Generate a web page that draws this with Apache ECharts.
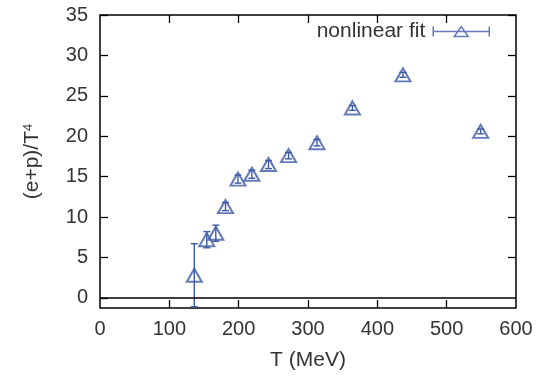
<!DOCTYPE html>
<html><head><meta charset="utf-8">
<script src="https://cdn.jsdelivr.net/npm/echarts@6/dist/echarts.min.js"></script>
<style>html,body{margin:0;padding:0;background:#fff}#c{width:544px;height:376px}</style>
</head><body><div id="c"></div>
<script>
const T   = [136, 154, 167, 181, 199, 219, 243, 272, 313, 364, 437, 549];
const val = [2.8, 7.2, 8.0, 11.3, 14.7, 15.3, 16.5, 17.6, 19.2, 23.5, 27.6, 20.6];
const err = [3.9, 1.0, 1.0, 0.5, 0.5, 0.5, 0.5, 0.4, 0.4, 0.3, 0.3, 0.3];
const xTicks = [0, 100, 200, 300, 400, 500, 600];
const yTicks = [0, 5, 10, 15, 20, 25, 30, 35];
const seriesName = 'nonlinear fit';

const blue = '#3d5aa6';
const txt = '#333';
const font = 'Liberation Sans, Arial, sans-serif';
const pts = T.map((t, i) => [t, val[i], err[i]]);

const chart = echarts.init(document.getElementById('c'));
function ticks(vals) {
  return {show: true, inside: true, length: 8, customValues: vals, lineStyle: {color: '#000', width: 1.3}};
}
const noLine = {show: false, onZero: false};
chart.setOption({
  animation: false,
  backgroundColor: '#fff',
  grid: {left: 100, right: 28, top: 15, bottom: 67, show: true, borderColor: '#000', borderWidth: 1.5},
  legend: {
    data: [{name: seriesName}],
    right: 54, top: 21, padding: 0, align: 'right',
    itemWidth: 56, itemHeight: 12,
    icon: 'path://M0,6 L56,6 M0,1 L0,11 M56,1 L56,11 M21,11 L28,1 L35,11 Z',
    itemStyle: {color: 'rgba(0,0,0,0)', borderColor: blue, borderWidth: 1.5},
    textStyle: {fontFamily: font, fontSize: 21, color: txt, padding: [0, 3, 0, 0]}
  },
  xAxis: [{
    type: 'value', min: 0, max: 600,
    name: 'T (MeV)', nameLocation: 'middle', nameGap: 42,
    nameTextStyle: {fontFamily: font, fontSize: 21, color: txt},
    axisLine: noLine, axisTick: ticks(xTicks.slice(1, -1)),
    axisLabel: {fontFamily: font, fontSize: 20, color: txt, margin: 11, customValues: xTicks},
    splitLine: {show: false}
  }, {
    type: 'value', min: 0, max: 600, position: 'top',
    axisLine: noLine, axisTick: ticks(xTicks.slice(1, -1)),
    axisLabel: {show: false}, splitLine: {show: false}
  }],
  yAxis: [{
    type: 'value', min: -1.25, max: 35,
    name: '(e+p)/T{s|4}', nameLocation: 'middle', nameGap: 57, nameRotate: 90,
    nameTextStyle: {fontFamily: font, fontSize: 21, color: txt,
      rich: {s: {fontFamily: font, fontSize: 13, color: txt, verticalAlign: 'top', padding: [0, 0, 8, 0]}}},
    axisLine: noLine, axisTick: ticks(yTicks),
    axisLabel: {fontFamily: font, fontSize: 20, color: txt, margin: 12, customValues: yTicks},
    splitLine: {show: false}
  }, {
    type: 'value', min: -1.25, max: 35, position: 'right',
    axisLine: noLine, axisTick: ticks(yTicks.slice(1)),
    axisLabel: {show: false}, splitLine: {show: false}
  }],
  series: [{
    type: 'custom', name: 'errbars', clip: true,
    data: pts,
    renderItem: function (params, api) {
      const x = api.value(0), y = api.value(1), e = api.value(2);
      const lo = api.coord([x, y - e]), hi = api.coord([x, y + e]);
      const w = 3.5;
      const st = {stroke: blue, lineWidth: 1.4};
      return {type: 'group', children: [
        {type: 'line', shape: {x1: lo[0], y1: lo[1], x2: hi[0], y2: hi[1]}, style: st},
        {type: 'line', shape: {x1: lo[0] - w, y1: lo[1], x2: lo[0] + w, y2: lo[1]}, style: st},
        {type: 'line', shape: {x1: hi[0] - w, y1: hi[1], x2: hi[0] + w, y2: hi[1]}, style: st}
      ]};
    },
    z: 2
  }, {
    type: 'scatter', name: seriesName,
    data: pts.map(p => [p[0], p[1]]),
    symbol: 'triangle', symbolSize: [15, 13],
    itemStyle: {color: 'rgba(0,0,0,0)', borderColor: blue, borderWidth: 2},
    markLine: {
      silent: true, symbol: 'none', label: {show: false},
      lineStyle: {color: '#000', width: 1.5, type: 'solid'},
      data: [{yAxis: 0}]
    },
    z: 3
  }]
});
</script></body></html>
